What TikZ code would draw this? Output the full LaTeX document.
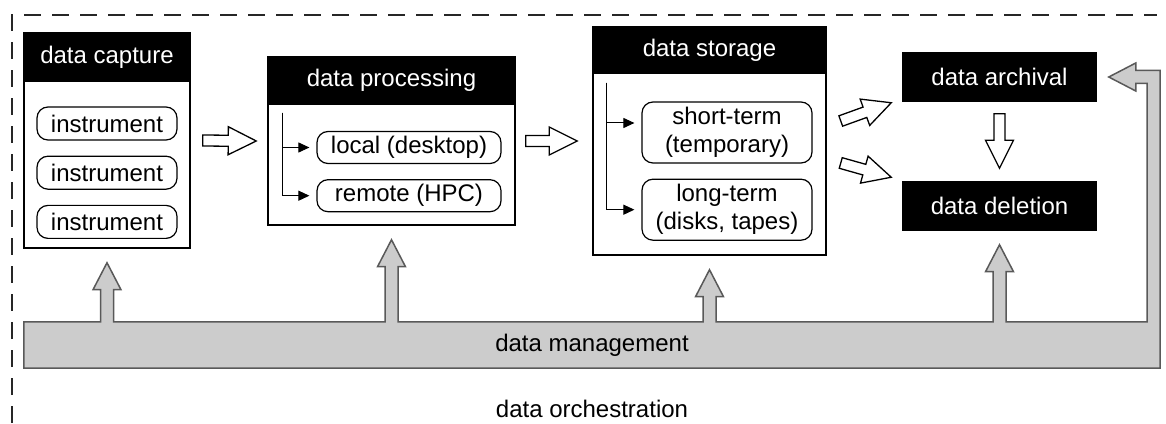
\documentclass[tikz,border=0pt]{standalone}
\usepackage{fontspec}
\setmainfont{Liberation Sans}
\usepackage{xcolor}
\usepackage{tikz}
\usetikzlibrary{arrows.meta,positioning,calc}

% hollow block arrow between two points
\newcommand{\fatarrow}[2]{%
  \coordinate (fas) at #1;
  \coordinate (fae) at #2;
  \coordinate (fah) at ($(fae)!28pt!(fas)$);
  \draw[hollow] ($(fas)!5.5pt!90:(fae)$) -- ($(fah)!5.5pt!90:(fae)$)
    -- ($(fah)!14pt!90:(fae)$) -- (fae) -- ($(fah)!14pt!-90:(fae)$)
    -- ($(fah)!5.5pt!-90:(fae)$) -- ($(fas)!5.5pt!-90:(fae)$) -- cycle;
}

\begin{document}
\begin{tikzpicture}[
  x=1pt, y=1pt,
  every node/.style={font=\fontsize{24}{28}\selectfont},
  panel/.style={rectangle, draw, line width=1.5pt, fill=white, inner sep=0pt},
  head/.style={rectangle, draw, line width=1.5pt, fill=black, text=white, inner sep=0pt},
  pill/.style={rectangle, rounded corners=11pt, draw, line width=1.2pt, align=center, inner sep=0pt, minimum height=33pt},
  tree/.style={-{Triangle[length=11pt,width=10pt]}, line width=1pt, shorten >=7pt},
  hollow/.style={draw, fill=white, line width=1.3pt, line join=miter},
  mgmt/.style={draw=black!65, fill=black!20, line width=1.5pt},
  frame/.style={draw=black!85, line width=2.5pt, dash pattern=on 17pt off 11pt},
  riser/.style={insert path={
    -- ($(#1.south |- band.north)+(-6.5,0)$) -- ($(#1.south)+(-6.5,-41)$)
    -- ($(#1.south)+(-14,-41)$) -- ($(#1.south)+(0,-14)$) -- ($(#1.south)+(14,-41)$)
    -- ($(#1.south)+(6.5,-41)$) -- ($(#1.south |- band.north)+(6.5,0)$)}}
]
\useasboundingbox (0,0) rectangle (1166,423);

% orchestration frame
\draw[frame] (12,0) -- (12,408) -- (1157,408);

% data capture
\node[panel, minimum width=166pt, minimum height=215pt] (capture) at (107,282.5) {};
\node[head, minimum width=166pt, minimum height=48pt, anchor=north] (capturehead) at (capture.north) {data capture};
\node[pill, minimum width=140pt] (inst1) at (107,299.5) {instrument};
\node[pill, minimum width=140pt, below=15pt of inst1] (inst2) {instrument};
\node[pill, minimum width=140pt, below=15pt of inst2] (inst3) {instrument};

% data processing
\node[panel, minimum width=247pt, minimum height=168pt] (processing) at (391.5,282) {};
\node[head, minimum width=247pt, minimum height=47pt, anchor=north] (processinghead) at (processing.north) {data processing};
\node[pill, minimum width=184pt, minimum height=32pt] (local) at (409,275.5) {local (desktop)};
\node[pill, minimum width=184pt, minimum height=32pt, below=15pt of local] (remote) {remote (HPC)};
\coordinate (ptop) at ($(processinghead.south west)+(15,-8)$);
\draw[tree] (ptop) |- (local);
\draw[tree] (ptop) |- (remote);

% data storage
\node[panel, minimum width=233pt, minimum height=228pt] (storage) at (709.5,282) {};
\node[head, minimum width=233pt, minimum height=46pt, anchor=north] (storagehead) at (storage.north) {data storage};
\node[pill, minimum width=170pt, minimum height=61pt] (short) at (727,290.5) {short-term\\(temporary)};
\node[pill, minimum width=170pt, minimum height=61pt, below=15pt of short] (long) {long-term\\(disks, tapes)};
\coordinate (stop) at ($(storagehead.south west)+(14,-9)$);
\draw[tree] (stop) |- ([yshift=9.5pt]short.west);
\draw[tree] (stop) |- (long);

% archival and deletion
\node[head, minimum width=193pt, minimum height=48pt] (archival) at (999.5,346) {data archival};
\node[head, minimum width=193pt, minimum height=48pt] (deletion) at (999.5,217) {data deletion};

% flow
\fatarrow{($(capture.east)+(12,0)$)}{($(processing.west)+(-11,0)$)}
\fatarrow{($(processing.east)+(10,0)$)}{($(storage.west)+(-15,0)$)}
\fatarrow{($(storage.east)+(14,20)$)}{($(archival.south west)+(-11,-1)$)}
\fatarrow{($(storage.east)+(14,-22)$)}{($(deletion.north west)+(-11,4)$)}
\fatarrow{($(archival.south)+(0,-12)$)}{($(deletion.north)+(0,13)$)}

% data management
\node[minimum width=1136pt, minimum height=46pt] (band) at (592,78) {};
\draw[mgmt] (band.south west) -- (band.north west)
  [riser=capture] [riser=processing] [riser=storage] [riser=deletion]
  -- ($(band.north east)+(-13,0)$) -- ($(archival.east -| band.east)+(-13,-6.5)$)
  -- ($(archival.east)+(39,-6.5)$) -- ($(archival.east)+(39,-14)$)
  -- ($(archival.east)+(12,0)$) -- ($(archival.east)+(39,14)$)
  -- ($(archival.east)+(39,6.5)$) -- ($(archival.east -| band.east)+(0,6.5)$)
  -- (band.south east) -- cycle;
\node at (band.center) {data management};
\node (orchestration) at (592,14) {data orchestration};
\end{tikzpicture}
\end{document}
